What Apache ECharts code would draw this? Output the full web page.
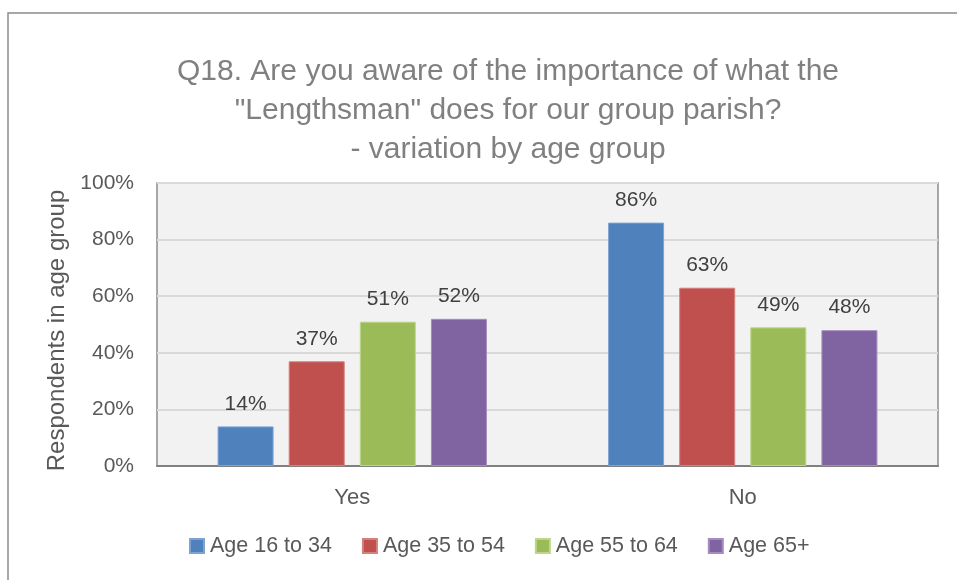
<!DOCTYPE html>
<html>
<head>
<meta charset="utf-8">
<script src="https://cdn.jsdelivr.net/npm/echarts@6/dist/echarts.min.js"></script>
<style>
  html, body { margin: 0; padding: 0; background: #ffffff; }
  #chart { width: 957px; height: 580px; }
</style>
</head>
<body>
<div id="chart"></div>
<script>
// Survey answers, share of respondents per age group (%)
const categories = ['Yes', 'No'];
const seriesNames = ['Age 16 to 34', 'Age 35 to 54', 'Age 55 to 64', 'Age 65+'];
const age16to34 = [14, 86];
const age35to54 = [37, 63];
const age55to64 = [51, 49];
const age65plus = [52, 48];
const yTicks = [0, 20, 40, 60, 80, 100];

const colors = ['#4f81bd', '#c0504d', '#9bbb59', '#8064a2'];
const borders = ['#7ea3d3', '#d77f7c', '#bcd68a', '#a48cc2'];
const FONT = '"Liberation Sans", Arial, sans-serif';

const values = [age16to34, age35to54, age55to64, age65plus];

const chart = echarts.init(document.getElementById('chart'), null, { renderer: 'canvas' });

const series = seriesNames.map((name, i) => ({
  name: name,
  type: 'bar',
  data: values[i],
  barWidth: 56,
  barGap: '27%',
  itemStyle: { color: colors[i], borderColor: borders[i], borderWidth: 1 },
  label: {
    show: true,
    position: 'top',
    distance: 12,
    formatter: '{c}%',
    color: '#404040',
    fontFamily: FONT,
    fontSize: 21
  }
}));

chart.setOption({
  animation: false,
  backgroundColor: '#ffffff',
  color: colors,
  title: {
    text: 'Q18. Are you aware of the importance of what the\n"Lengthsman" does for our group parish?\n- variation by age group',
    left: 503,
    top: 47,
    textAlign: 'center',
    textStyle: {
      fontFamily: FONT,
      fontSize: 30,
      fontWeight: 'normal',
      color: '#808080',
      lineHeight: 39,
      align: 'center'
    }
  },
  legend: {
    bottom: 18,
    left: 184,
    icon: 'rect',
    itemWidth: 14,
    itemHeight: 14,
    itemGap: 30,
    textStyle: { fontFamily: FONT, fontSize: 21.5, color: '#595959', padding: [0, 0, 0, 1] },
    data: seriesNames
  },
  grid: {
    left: 157,
    right: 19,
    top: 183,
    bottom: 114,
    show: true,
    backgroundColor: '#f2f2f2',
    borderColor: '#8c8c8c',
    borderWidth: 1.5
  },
  xAxis: {
    type: 'category',
    data: categories,
    axisLine: { lineStyle: { color: '#808080', width: 2 } },
    axisTick: { show: false },
    axisLabel: { fontFamily: FONT, fontSize: 22, color: '#595959', margin: 21 }
  },
  yAxis: {
    type: 'value',
    min: yTicks[0],
    max: yTicks[yTicks.length - 1],
    interval: yTicks[1] - yTicks[0],
    name: 'Respondents in age group',
    nameLocation: 'middle',
    nameGap: 88,
    nameTextStyle: { fontFamily: FONT, fontSize: 24, color: '#595959', padding: [0, 12, 0, 0] },
    axisLine: { show: false },
    axisTick: { show: false },
    splitLine: { lineStyle: { color: '#d9d9d9', width: 2 } },
    axisLabel: { formatter: '{value}%', fontFamily: FONT, fontSize: 21, color: '#595959', margin: 23 }
  },
  graphic: [{
    type: 'rect',
    silent: true,
    shape: { x: 8, y: 13, width: 980, height: 600 },
    style: { fill: 'none', stroke: '#8c8c8c', lineWidth: 1.5 },
    z: 100
  }],
  series: series
});
</script>
</body>
</html>
